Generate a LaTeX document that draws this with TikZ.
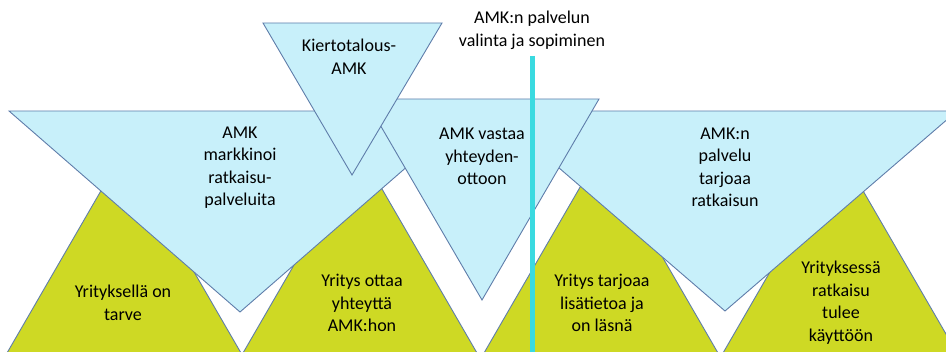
\documentclass[tikz,border=0pt]{standalone}
\usepackage{fontspec}
\setmainfont{Carlito}
\usepackage{tikz}

\definecolor{blueface}{RGB}{200,240,250}
\definecolor{blueedge}{RGB}{95,125,170}
\definecolor{greenface}{RGB}{206,217,36}
\definecolor{cyanline}{RGB}{58,218,224}

\tikzset{
    bluetri/.style={fill=blueface, draw=blueedge, line width=0.9pt},
    greentri/.style={fill=greenface, draw=blueedge, line width=0.9pt},
    txt/.style={align=center, inner sep=0pt, font=\fontsize{18}{22.5}\selectfont},
}

\begin{document}
\begin{tikzpicture}[x=1pt, y=-1pt]

\clip (0,0) rectangle (946,352);

% Green triangles (bottom row)
\foreach \gx/\gname in {124/gone, 360/gtwo, 601/gthree, 840/gfour} {
    \draw[greentri] (\gx,151) coordinate (\gname) -- (\gx-128,372) -- (\gx+128,372) -- cycle;
}

% Left blue
\draw[bluetri] (9,111) -- (471,111) -- (240,312) coordinate (bleft) -- cycle;

% Right blue
\draw[bluetri] (493,111) -- (957,111) -- (725,311) coordinate (bright) -- cycle;

% Middle blue
\draw[bluetri] (365,99) -- (599,99) -- (482,300) coordinate (bmid) -- cycle;

% Top blue
\draw[bluetri] (263,23) -- (442,23) -- (352,175) coordinate (btop) -- cycle;

% Vertical line
\coordinate (linetop) at (532,56);
\coordinate (linebottom) at (532,360);
\draw[cyanline, line width=5pt] (linetop) -- (linebottom);

% Texts
\node[txt] (valinta) at (532,30.5) {AMK:n palvelun\\valinta ja sopiminen};
\node[txt] (kierto) at (349,57) {Kiertotalous-\\AMK};
\node[txt] (markkinoi) at (240,167.5) {AMK\\markkinoi\\ratkaisu-\\palveluita};
\node[txt] (vastaa) at (482,156.5) {AMK vastaa\\yhteyden-\\ottoon};
\node[txt] (tarjoaa) at (725,167.5) {AMK:n\\palvelu\\tarjoaa\\ratkaisun};

\node[txt] (tarve) at (123,303) {Yrityksellä on\\tarve};
\node[txt] (ottaa) at (362,303) {Yritys ottaa\\yhteyttä\\AMK:hon};
\node[txt] (lasna) at (602,303) {Yritys tarjoaa\\lisätietoa ja\\on läsnä};
\node[txt] (kaytto) at (841,302.5) {Yrityksessä\\ratkaisu\\tulee\\käyttöön};

\end{tikzpicture}
\end{document}
